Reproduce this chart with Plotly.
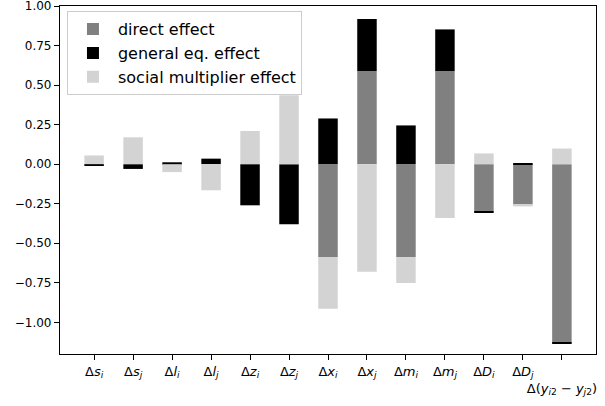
import plotly.graph_objects as go

categories = [
    "Δ<i>s</i><sub><i>i</i></sub>",
    "Δ<i>s</i><sub><i>j</i></sub>",
    "Δ<i>l</i><sub><i>i</i></sub>",
    "Δ<i>l</i><sub><i>j</i></sub>",
    "Δ<i>z</i><sub><i>i</i></sub>",
    "Δ<i>z</i><sub><i>j</i></sub>",
    "Δ<i>x</i><sub><i>i</i></sub>",
    "Δ<i>x</i><sub><i>j</i></sub>",
    "Δ<i>m</i><sub><i>i</i></sub>",
    "Δ<i>m</i><sub><i>j</i></sub>",
    "Δ<i>D</i><sub><i>i</i></sub>",
    "Δ<i>D</i><sub><i>j</i></sub>",
    "<br>Δ(<i>y</i><sub><i>i</i>2</sub> − <i>y</i><sub><i>j</i>2</sub>)",
]

direct_effect = [0.0, 0.0, 0.0, 0.0, 0.0, 0.0, -0.587, 0.589, -0.587, 0.589, -0.300, -0.255, -1.130]
general_eq_effect = [-0.010, -0.030, 0.012, 0.035, -0.260, -0.380, 0.289, 0.329, 0.245, 0.263, -0.006, 0.004, -0.007]
social_multiplier_effect = [0.055, 0.170, -0.050, -0.165, 0.210, 0.435, -0.327, -0.680, -0.164, -0.340, 0.068, -0.012, 0.099]

series_names = ["direct effect", "general eq. effect", "social multiplier effect"]
series_colors = ["#808080", "#000000", "#d3d3d3"]
series_values = [direct_effect, general_eq_effect, social_multiplier_effect]

y_ticks = [-1.0, -0.75, -0.5, -0.25, 0.0, 0.25, 0.5, 0.75, 1.0]

fig = go.Figure()
for name, color, vals in zip(series_names, series_colors, series_values):
    fig.add_trace(go.Bar(
        x=categories, y=vals, name=name, legendgroup=name,
        marker=dict(color=color, line=dict(width=0)),
    ))

font_family = "DejaVu Sans"
fig.update_layout(
    width=605, height=406,
    barmode="relative", bargap=0.5,
    plot_bgcolor="white", paper_bgcolor="white",
    margin=dict(l=60, r=9, t=6, b=52, autoexpand=False),
    font=dict(family=font_family, size=12, color="black"),
    showlegend=True,
    legend=dict(
        x=0.013, y=0.985, xanchor="left", yanchor="top",
        bgcolor="rgba(255,255,255,0.8)", bordercolor="#cccccc", borderwidth=1,
        font=dict(family=font_family, size=16, color="black"),
        traceorder="grouped", tracegroupgap=0, itemwidth=40,
    ),
)
fig.update_xaxes(
    range=[-0.875, 12.875], automargin=False, tickangle=0,
    showline=True, linecolor="black", linewidth=1.2, mirror=True,
    ticks="outside", ticklen=5, tickcolor="black", tickwidth=1,
    showgrid=False, zeroline=False, ticklabeloverflow="allow",
    tickfont=dict(family=font_family, size=13),
)
fig.update_yaxes(
    range=[-1.2, 1.0], automargin=False,
    tickvals=y_ticks, tickformat=".2f",
    showline=True, linecolor="black", linewidth=1.2, mirror=True,
    ticks="outside", ticklen=5, tickcolor="black", tickwidth=1,
    showgrid=False, zeroline=False, ticklabeloverflow="allow",
    tickfont=dict(family=font_family, size=12),
)

fig.write_html("out.html", config={"displayModeBar": False},
               post_script="document.body.style.margin='0';")
